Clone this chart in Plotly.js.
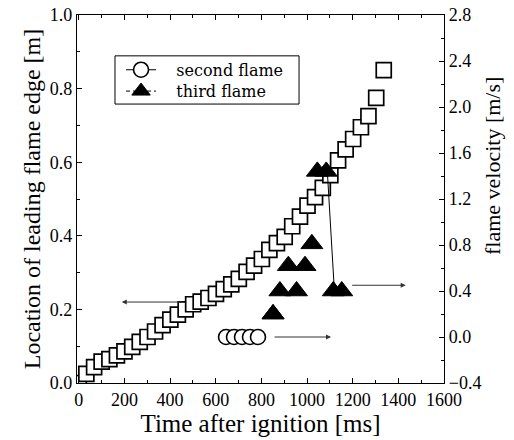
<!DOCTYPE html>
<html>
<head>
<meta charset="utf-8">
<script src="https://cdn.plot.ly/plotly-3.0.1.min.js"></script>
<style>html,body{margin:0;padding:0;background:#fff;}#chart{width:514px;height:440px;}</style>
</head>
<body>
<div id="chart"></div>
<script>
// Leading flame edge location (squares, left axis)
const edgeTime = [0, 33, 67, 100, 134, 167, 200, 234, 267, 301, 334, 367, 401, 434, 468, 501, 534, 568, 601, 635, 668, 701, 735, 768, 802, 835, 868, 902, 935, 969, 1002, 1035, 1069, 1102, 1136, 1169, 1202, 1236, 1269, 1303, 1336];
const edgeLoc = [0.000, 0.025, 0.043, 0.058, 0.065, 0.075, 0.086, 0.098, 0.112, 0.125, 0.140, 0.157, 0.172, 0.186, 0.200, 0.214, 0.221, 0.231, 0.242, 0.255, 0.268, 0.283, 0.302, 0.319, 0.337, 0.362, 0.380, 0.397, 0.426, 0.452, 0.482, 0.505, 0.530, 0.565, 0.605, 0.635, 0.663, 0.695, 0.725, 0.775, 0.850];
// Second flame velocity (circles, right axis)
const secondTime = [645, 680, 715, 750, 785];
const secondVel = [0.0, 0.0, 0.0, 0.0, 0.0];
// Third flame velocity (triangles, right axis)
const thirdTime = [851, 881, 918, 954, 991, 1021, 1045, 1084, 1115, 1152];
const thirdVel = [0.20, 0.40, 0.62, 0.40, 0.62, 0.81, 1.44, 1.44, 0.40, 0.40];
// Axis ticks
const xTicks = [0, 200, 400, 600, 800, 1000, 1200, 1400, 1600];
const yTicks = [0.0, 0.2, 0.4, 0.6, 0.8, 1.0];
const y2Ticks = [-0.4, 0.0, 0.4, 0.8, 1.2, 1.6, 2.0, 2.4, 2.8];

const serif = 'Liberation Serif, Times New Roman, serif';
const legSerif = 'DejaVu Serif, serif';
const pad = '\u00a0\u00a0\u00a0';

const triMarker = {symbol: 'triangle-up', size: 19, color: 'black', line: {color: 'black', width: 1}};

const traces = [
  {x: edgeTime, y: edgeLoc, type: 'scatter', mode: 'markers', showlegend: false,
   marker: {symbol: 'square', size: 15, color: 'white', line: {color: 'black', width: 1.7}}},
  {x: secondTime, y: secondVel, yaxis: 'y2', type: 'scatter', mode: 'lines+markers', name: pad + 'second flame',
   legend: 'legend',
   line: {color: 'black', width: 1.2},
   marker: {symbol: 'circle', size: 15, color: 'white', line: {color: 'black', width: 1.6}}},
  {x: thirdTime, y: thirdVel, yaxis: 'y2', type: 'scatter', mode: 'markers', showlegend: false,
   marker: triMarker},
  // legend entry for the third flame (re-draws only its first point)
  {x: thirdTime.slice(0, 1), y: thirdVel.slice(0, 1), yaxis: 'y2', type: 'scatter', mode: 'lines+markers',
   name: pad + 'third flame', legend: 'legend2',
   line: {color: 'black', width: 1, dash: '4px,3px'}, marker: triMarker}
];

const axisCommon = {
  showgrid: false, zeroline: false, showline: true, linecolor: 'black', linewidth: 1.2,
  ticks: 'inside', ticklen: 5, tickwidth: 1, tickcolor: 'black',
  tickfont: {family: serif, size: 18, color: 'black'}
};

const legendCommon = {
  xanchor: 'left', yanchor: 'middle', borderwidth: 0, bgcolor: 'rgba(0,0,0,0)',
  font: {family: legSerif, size: 16, color: 'black'}
};

const layout = {
  width: 514, height: 440,
  margin: {l: 77, r: 70, t: 15, b: 57},
  paper_bgcolor: 'white', plot_bgcolor: 'white',
  font: {family: serif, color: 'black'},
  xaxis: Object.assign({}, axisCommon, {
    range: [-8, 1600], tickvals: xTicks, mirror: 'ticks',
    minor: {dtick: 100, tick0: 0, ticks: 'inside', ticklen: 3, tickcolor: 'black'},
    title: {text: 'Time after ignition [ms]', font: {family: serif, size: 25, color: 'black'}, standoff: 4}
  }),
  yaxis: Object.assign({}, axisCommon, {
    range: [0, 1], tickvals: yTicks, tickformat: '.1f',
    minor: {dtick: 0.1, tick0: 0, ticks: 'inside', ticklen: 3, tickcolor: 'black'},
    title: {text: 'Location of leading flame edge [m]', font: {family: serif, size: 24, color: 'black'}, standoff: 2}
  }),
  yaxis2: Object.assign({}, axisCommon, {
    overlaying: 'y', side: 'right',
    range: [-0.4, 2.8], tickvals: y2Ticks, tickformat: '.1f',
    minor: {dtick: 0.2, tick0: -0.4, ticks: 'inside', ticklen: 3, tickcolor: 'black'}
  }),
  legend: Object.assign({}, legendCommon, {x: 0.12, y: 0.851}),
  legend2: Object.assign({}, legendCommon, {x: 0.12, y: 0.793}),
  shapes: [
    {type: 'rect', xref: 'paper', yref: 'paper', x0: 0.1035, x1: 0.605, y0: 0.758, y1: 0.889,
     line: {color: 'black', width: 1}},
    {type: 'line', xref: 'x', yref: 'y2', x0: 1090, y0: 1.40, x1: 1118, y1: 0.46,
     line: {color: 'black', width: 1}}
  ],
  annotations: [
    {xref: 'paper', yref: 'paper', x: 1.134, y: 0.59, xanchor: 'center', yanchor: 'middle',
     text: 'flame velocity [m/s]', textangle: -90, showarrow: false,
     font: {family: serif, size: 22, color: 'black'}},
    {xref: 'x', yref: 'y', axref: 'x', ayref: 'y', x: 188, y: 0.22, ax: 458, ay: 0.22,
     text: '', showarrow: true, arrowhead: 2, arrowsize: 1, arrowwidth: 1, arrowcolor: '#333'},
    {xref: 'x', yref: 'y2', axref: 'x', ayref: 'y2', x: 1105, y: 0.0, ax: 851, ay: 0.0,
     text: '', showarrow: true, arrowhead: 2, arrowsize: 1, arrowwidth: 1, arrowcolor: '#333'},
    {xref: 'x', yref: 'y2', axref: 'x', ayref: 'y2', x: 1432, y: 0.45, ax: 1191, ay: 0.45,
     text: '', showarrow: true, arrowhead: 2, arrowsize: 1, arrowwidth: 1, arrowcolor: '#333'}
  ]
};

Plotly.newPlot('chart', traces, layout, {displayModeBar: false, staticPlot: true});
</script>
</body>
</html>
